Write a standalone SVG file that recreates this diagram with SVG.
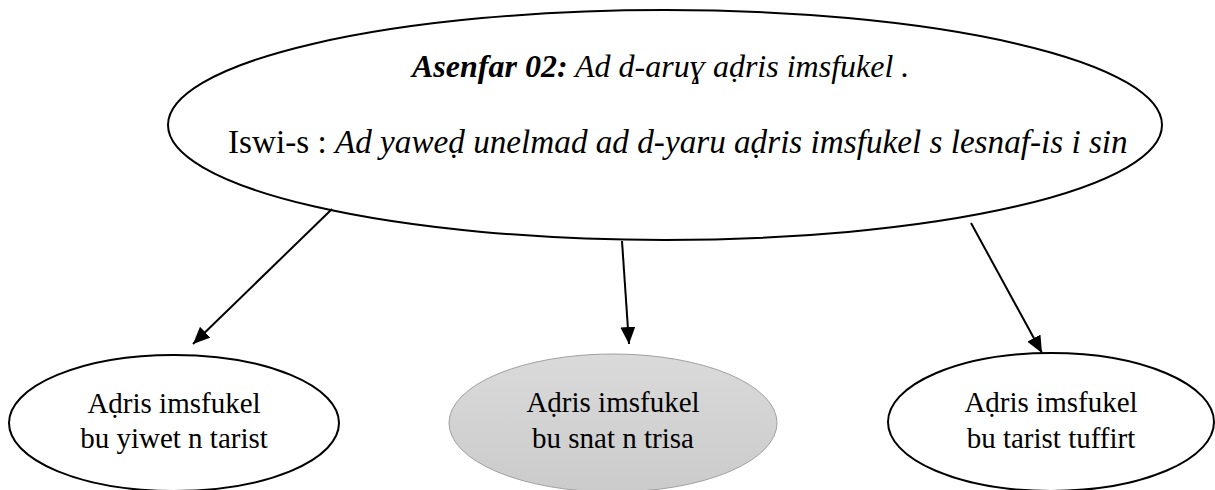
<svg xmlns="http://www.w3.org/2000/svg" width="1215" height="490" viewBox="0 0 1215 490">
<style>
.node{fill:#fff;stroke:#000;stroke-width:2}
.small{font-size:29px;text-anchor:middle}
.big{font-size:32px}
.conn line{stroke:#000;stroke-width:2}
</style>
<defs>
<marker id="ah" viewBox="0 0 17 15" refX="17" refY="7.5" markerWidth="17" markerHeight="15" markerUnits="userSpaceOnUse" orient="auto">
<path d="M0,0 L17,7.5 L0,15 z" fill="#000"/>
</marker>
<linearGradient id="g" x1="0" y1="0" x2="0" y2="1">
<stop offset="0" stop-color="#dadada"/>
<stop offset="1" stop-color="#cbcbcb"/>
</linearGradient>
</defs>
<rect width="1215" height="490" fill="#fff"/>
<g id="main" font-family="'Liberation Serif', 'DejaVu Serif', serif" fill="#000">
<ellipse class="node" cx="665" cy="125" rx="497" ry="115"/>
<text class="big" x="412" y="77"><tspan font-weight="bold" font-style="italic">Asenfar 02:</tspan><tspan font-style="italic"> Ad d-aruɣ aḍris imsfukel .</tspan></text>
<text class="big" x="228" y="153" style="font-size:33.2px">Iswi-s : <tspan font-style="italic">Ad yaweḍ unelmad ad d-yaru aḍris imsfukel s lesnaf-is i sin</tspan></text>
</g>
<g id="left" font-family="'Liberation Serif', 'DejaVu Serif', serif" fill="#000">
<ellipse class="node" cx="174" cy="423" rx="165" ry="68"/>
<text class="small" x="174" y="413">Aḍris imsfukel</text>
<text class="small" x="174" y="448">bu yiwet n tarist</text>
</g>
<g id="middle" font-family="'Liberation Serif', 'DejaVu Serif', serif" fill="#000">
<ellipse cx="613" cy="423" rx="164" ry="69" fill="url(#g)" stroke="#a0a0a0" stroke-width="1"/>
<text class="small" x="613" y="412">Aḍris imsfukel</text>
<text class="small" x="613" y="448">bu snat n trisa</text>
</g>
<g id="right" font-family="'Liberation Serif', 'DejaVu Serif', serif" fill="#000">
<ellipse class="node" cx="1051" cy="422" rx="163" ry="69"/>
<text class="small" x="1051" y="412">Aḍris imsfukel</text>
<text class="small" x="1051" y="448">bu tarist tuffirt</text>
</g>
<g class="conn" id="connectors">
<line x1="332" y1="209" x2="193" y2="344" marker-end="url(#ah)"/>
<line x1="622" y1="241" x2="629" y2="344" marker-end="url(#ah)"/>
<line x1="971" y1="223" x2="1042" y2="353" marker-end="url(#ah)"/>
</g>
</svg>
